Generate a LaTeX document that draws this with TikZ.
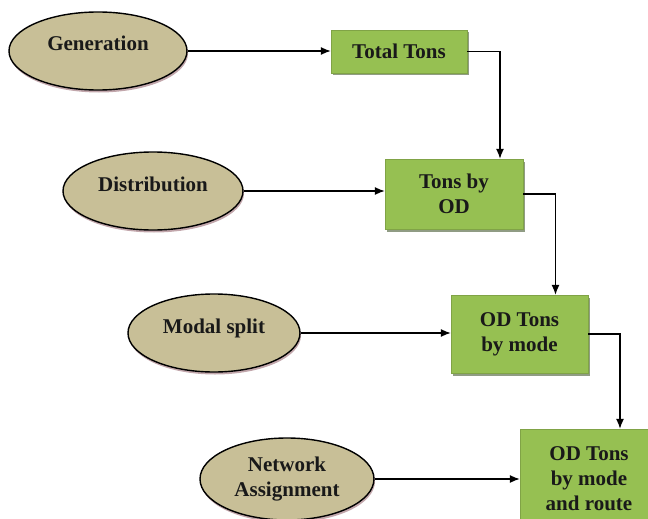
\documentclass[tikz,border=0pt]{standalone}
\usepackage{fontspec}
\setmainfont{Liberation Serif}[BoldFont={Liberation Serif Bold}]
\usetikzlibrary{shapes.geometric,shadows,arrows.meta}
\definecolor{stagetan}{RGB}{200,191,151}
\definecolor{stageshade}{RGB}{120,60,70}
\definecolor{leafgreen}{RGB}{150,192,82}
\definecolor{leafshade}{RGB}{70,90,50}
\tikzset{
	stage/.style={ellipse, draw=black, line width=1.4pt, fill=stagetan, text=black!90, inner sep=0pt,
		font=\rmfamily\bfseries\fontsize{21}{25}\selectfont, align=center,
		drop shadow={shadow xshift=1pt, shadow yshift=-2.5pt, fill=stageshade, opacity=0.45}},
	result/.style={rectangle, draw=leafgreen!85!black, line width=0.4pt, fill=leafgreen, text=black!90, inner sep=0pt,
		font=\rmfamily\bfseries\fontsize{21}{25}\selectfont, align=center,
		drop shadow={shadow xshift=2pt, shadow yshift=-2.5pt, fill=leafshade, opacity=0.6}},
	link/.style={line width=1.2pt, -{Latex[length=10pt,width=8pt]}},
	oneline/.style={text height=14pt, text depth=14pt}
}

\begin{document}
\begin{tikzpicture}[x=1pt, y=-1pt]
			%%%%% START %%%%%
			\useasboundingbox (0, 0) rectangle (648, 519);
			
			% stages
			\node[stage, oneline, minimum width=178pt, minimum height=78pt] (gen) at (98, 51) {Generation};
			\node[stage, oneline, minimum width=180pt, minimum height=78pt] (dist) at (153, 191) {Distribution};
			\node[stage, oneline, minimum width=172pt, minimum height=78pt] (modal) at (214, 333) {Modal split};
			\node[stage, minimum width=174pt, minimum height=82pt] (net) at (287, 479) {Network\\Assignment};
			
			% results
			\node[result, minimum width=136pt, minimum height=43pt] (tot) at (399, 51.5) {Total Tons};
			\node[result, minimum width=138pt, minimum height=70pt] (tbo) at (454, 194) {Tons by\\OD};
			\node[result, minimum width=137pt, minimum height=78pt] (tbm) at (519.5, 334) {OD Tons\\by mode};
			\node[result, minimum width=138pt, minimum height=100pt] (tbr) at (589, 479) {OD Tons\\by mode\\and route};
			
			% inputs
			\draw[link] (gen.east) -- (gen.east -| tot.west);
			\draw[link] (dist.east) -- (dist.east -| tbo.west);
			\draw[link] (modal.east) -- (modal.east -| tbm.west);
			\draw[link] (net.east) -- (net.east -| tbr.west);
			
			% chain
			\draw[link] (tot.east) -| ([xshift=46pt]tbo.north);
			\draw[link] (tbo.east) -| ([xshift=36pt]tbm.north);
			\draw[link] (tbm.east) -| ([xshift=31pt]tbr.north);
			
			%%%%% END %%%%%
		\end{tikzpicture}
\end{document}
